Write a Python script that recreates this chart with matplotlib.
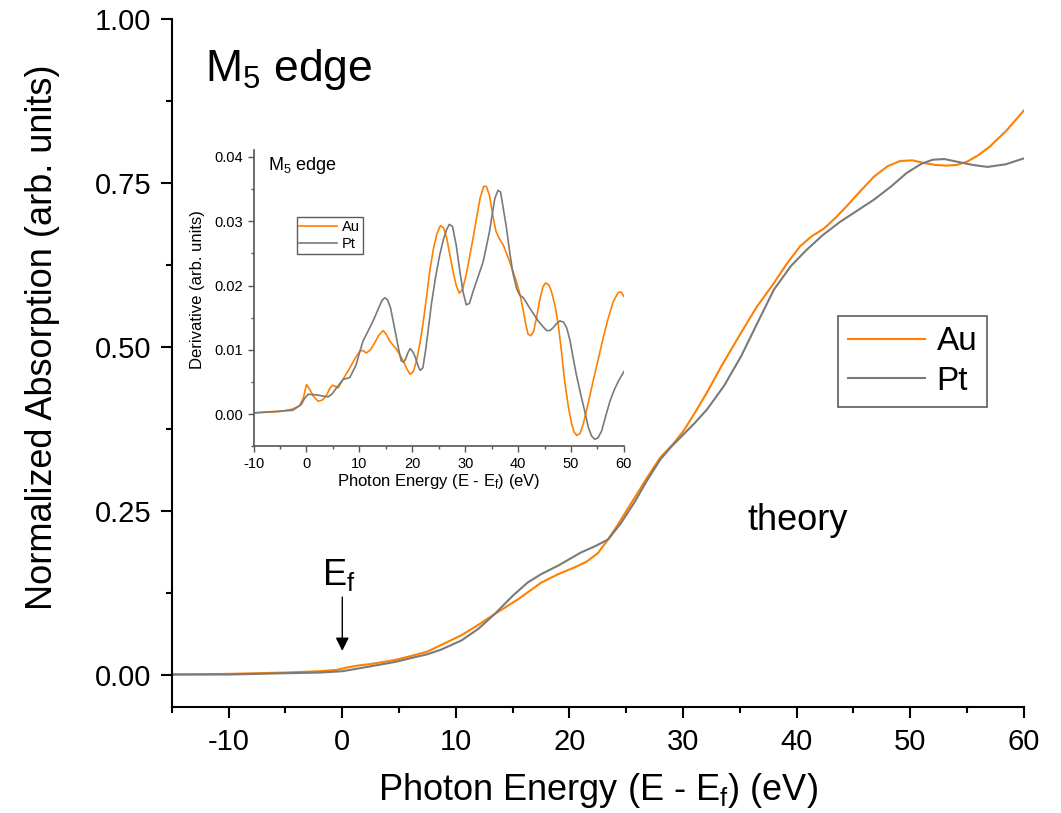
import matplotlib
matplotlib.use("Agg")
import matplotlib.pyplot as plt
from matplotlib.ticker import MultipleLocator, FormatStrFormatter

plt.rcParams['font.family'] = ['Liberation Sans', 'DejaVu Sans']
plt.rcParams['mathtext.fontset'] = 'custom'
plt.rcParams['mathtext.rm'] = 'Liberation Sans'
plt.rcParams['mathtext.it'] = 'Liberation Sans'
plt.rcParams['axes.unicode_minus'] = False

# main panel: normalized absorption
au_e = [-15, -10, -5, -2, -0.5, 0.5, 1.5, 2.5, 4.6, 6, 7.5, 8.7, 10.5, 12, 13.4, 15.5,
        17.5, 19, 20.4, 21.5, 22.5, 23.4, 24.2, 25.1, 26.0, 26.9, 28.0, 29.2, 30.1,
        31.0, 32.1, 33.5, 35.1, 36.5, 38.0, 39.2, 40.3, 41.3, 42.4, 43.4, 44.4, 45.6,
        46.8, 48.0, 49.1, 50.2, 51.2, 52.2, 53.2, 54.1, 55.0, 56.0, 57.0, 58.5, 60]
au_abs = [0.000, 0.001, 0.003, 0.005, 0.007, 0.011, 0.014, 0.016, 0.022, 0.028, 0.035,
          0.045, 0.060, 0.076, 0.092, 0.115, 0.140, 0.153, 0.163, 0.172, 0.185, 0.206,
          0.227, 0.252, 0.277, 0.302, 0.331, 0.353, 0.373, 0.398, 0.430, 0.474, 0.521,
          0.561, 0.597, 0.628, 0.653, 0.668, 0.680, 0.696, 0.714, 0.737, 0.759, 0.775,
          0.783, 0.784, 0.780, 0.777, 0.776, 0.777, 0.782, 0.792, 0.805, 0.830, 0.860]
pt_e = [-15, -10, -5, -2, 0, 2, 4.6, 7.5, 8.7, 10.5, 12, 13.4, 15, 16.3, 17.5, 19.0,
        21.0, 22.3, 23.4, 24.5, 25.7, 26.8, 28.0, 29.0, 29.8, 31.0, 32.1, 33.6, 35.1,
        36.6, 38.0, 39.5, 40.9, 42.3, 43.8, 45.3, 46.8, 48.3, 49.7, 51.0, 52.0, 53.0,
        54.1, 55.5, 56.8, 58.4, 60]
pt_abs = [0.000, 0.000, 0.002, 0.003, 0.005, 0.011, 0.019, 0.031, 0.038, 0.052, 0.070,
          0.092, 0.120, 0.140, 0.153, 0.166, 0.186, 0.196, 0.206, 0.230, 0.262, 0.295,
          0.328, 0.348, 0.362, 0.383, 0.404, 0.440, 0.485, 0.538, 0.587, 0.623, 0.648,
          0.670, 0.690, 0.707, 0.724, 0.744, 0.765, 0.779, 0.785, 0.786, 0.782, 0.777,
          0.774, 0.778, 0.787]

# inset: derivative
au_de = [-10, -5.1, -2.6, -1.3, -0.6, 0.0, 0.5, 1.3, 2.2, 3.0, 3.7, 4.4, 4.9, 5.5, 6.0,
         6.9, 8.2, 9.2, 10.1, 10.7, 11.3, 12.1, 12.9, 13.7, 14.5, 15.1, 15.7, 17.0,
         18.3, 19.0, 19.6, 20.2, 20.8, 21.4, 22.0, 22.7, 23.3, 24.0, 24.6, 25.3, 25.9,
         26.5, 27.1, 27.7, 28.3, 28.9, 29.5, 30.2, 30.8, 31.5, 32.2, 32.8, 33.5, 34.0,
         34.6, 35.2, 35.8, 36.5, 37.2, 38.4, 39.7, 40.4, 41.0, 41.5, 41.9, 42.4, 42.9,
         43.5, 44.1, 44.7, 45.2, 45.8, 46.3, 47.0, 47.6, 48.2, 48.8, 49.5, 50.1, 50.6,
         51.1, 51.7, 52.3, 53.2, 54.2, 55.2, 56.1, 57.0, 58.0, 58.9, 59.5, 60]
au_der = [0.0002, 0.0004, 0.0008, 0.0013, 0.0025, 0.0046, 0.0040, 0.0028, 0.0020,
          0.0022, 0.0028, 0.0040, 0.0045, 0.0043, 0.0041, 0.0054, 0.0072, 0.0087,
          0.0098, 0.0099, 0.0095, 0.0100, 0.0111, 0.0123, 0.0130, 0.0124, 0.0114,
          0.0101, 0.0083, 0.0070, 0.0062, 0.0066, 0.0083, 0.0108, 0.0139, 0.0182,
          0.0222, 0.0257, 0.0279, 0.0293, 0.0290, 0.0274, 0.0248, 0.0222, 0.0200,
          0.0188, 0.0194, 0.0217, 0.0243, 0.0274, 0.0307, 0.0335, 0.0354, 0.0354,
          0.0340, 0.0310, 0.0285, 0.0272, 0.0263, 0.0237, 0.0206, 0.0185, 0.0160,
          0.0138, 0.0124, 0.0122, 0.0128, 0.0150, 0.0178, 0.0198, 0.0204, 0.0201,
          0.0191, 0.0168, 0.0139, 0.0098, 0.0052, 0.0012, -0.0014, -0.0028, -0.0033,
          -0.0030, -0.0016, 0.0015, 0.0052, 0.0087, 0.0119, 0.0148, 0.0175, 0.0189,
          0.0190, 0.0183]
pt_de = [-10, -2.6, -1.0, -0.4, 0.3, 1.9, 3.2, 4.1, 4.8, 5.6, 6.9, 8.2, 9.4, 10.0, 10.7,
         11.7, 12.6, 13.8, 14.3, 14.8, 15.3, 15.9, 16.5, 17.0, 17.5, 17.9, 18.3, 18.7,
         19.2, 19.6, 20.1, 20.6, 21.1, 21.5, 22.0, 22.5, 23.0, 23.6, 24.4, 25.2, 25.9,
         26.5, 27.0, 27.6, 28.3, 29.0, 29.6, 30.2, 30.8, 31.5, 32.5, 33.4, 34.0, 34.6,
         35.1, 35.6, 36.2, 36.7, 37.2, 37.8, 38.4, 39.0, 39.7, 40.3, 41.0, 42.2, 43.8,
         44.6, 45.4, 46.0, 46.6, 47.3, 47.9, 48.6, 49.2, 49.8, 50.4, 51.0, 51.7, 52.5,
         53.3, 53.9, 54.5, 55.1, 55.8, 56.6, 57.4, 58.2, 59.0, 60]
pt_der = [0.0002, 0.0006, 0.0015, 0.0024, 0.0031, 0.0030, 0.0028, 0.0027, 0.0031,
          0.0040, 0.0054, 0.0057, 0.0077, 0.0095, 0.0114, 0.0130, 0.0145, 0.0168,
          0.0177, 0.0181, 0.0178, 0.0165, 0.0140, 0.0119, 0.0098, 0.0083, 0.0081,
          0.0085, 0.0096, 0.0102, 0.0097, 0.0088, 0.0075, 0.0068, 0.0072, 0.0098,
          0.0130, 0.0170, 0.0213, 0.0248, 0.0272, 0.0287, 0.0295, 0.0292, 0.0263,
          0.0222, 0.0190, 0.0170, 0.0172, 0.0191, 0.0215, 0.0237, 0.0260, 0.0284,
          0.0310, 0.0335, 0.0348, 0.0345, 0.0320, 0.0290, 0.0253, 0.0220, 0.0196,
          0.0185, 0.0181, 0.0165, 0.0145, 0.0137, 0.0130, 0.0130, 0.0134, 0.0141,
          0.0145, 0.0143, 0.0134, 0.0115, 0.0088, 0.0062, 0.0036, 0.0008, -0.0021,
          -0.0034, -0.0039, -0.0037, -0.0026, -0.0002, 0.0021, 0.0038, 0.0052, 0.0066]

orange = '#FF8000'
grey = '#7A7A7A'

fig = plt.figure(figsize=(10.61, 8.13), dpi=100)
ax = fig.add_axes([0.162, 0.130, 0.803, 0.847])
ax.plot(au_e, au_abs, color=orange, lw=1.5, label='Au')
ax.plot(pt_e, pt_abs, color=grey, lw=1.5, label='Pt')
ax.set_xlim(-15, 60)
ax.set_ylim(-0.05, 1.0)
ax.set_xticks([-10, 0, 10, 20, 30, 40, 50, 60])
ax.xaxis.set_minor_locator(MultipleLocator(5))
ax.yaxis.set_major_locator(MultipleLocator(0.25))
ax.yaxis.set_minor_locator(MultipleLocator(0.125))
ax.yaxis.set_major_formatter(FormatStrFormatter('%.2f'))
for s in ['top', 'right']:
    ax.spines[s].set_visible(False)
for s in ['left', 'bottom']:
    ax.spines[s].set_linewidth(1.5)
ax.tick_params(which='major', direction='out', length=8, width=1.5, labelsize=21, pad=7)
ax.tick_params(which='minor', direction='out', length=4, width=1.5)
ax.set_xlabel('Photon Energy (E - E$_\\mathregular{f}$) (eV)', fontsize=26, labelpad=11)
ax.set_ylabel('Normalized Absorption (arb. units)', fontsize=26)
ax.yaxis.set_label_coords(-0.131, 0.538)
ax.text(0.039, 0.926, 'M$_\\mathregular{5}$ edge', transform=ax.transAxes,
        fontsize=32, va='center', ha='left')
ax.text(40.1, 0.235, 'theory', fontsize=26, ha='center', va='center')
ax.text(-0.3, 0.152, 'E$_\\mathregular{f}$', fontsize=26, ha='center', va='center')
ax.annotate('', xy=(0, 0.036), xytext=(0, 0.118),
            arrowprops=dict(arrowstyle='-|>', color='black', lw=1,
                            mutation_scale=20, shrinkA=0, shrinkB=0))
leg = ax.legend(loc='upper left', bbox_to_anchor=(0.782, 0.568), fontsize=24,
                frameon=True, fancybox=False, edgecolor='#333333',
                handlelength=2.3, borderaxespad=0, borderpad=0.3,
                labelspacing=0.25, handletextpad=0.35)
leg.get_frame().set_linewidth(1.2)

# inset
ins = fig.add_axes([0.239, 0.451, 0.349, 0.364])
ins.plot(au_de, au_der, color=orange, lw=1.2, label='Au')
ins.plot(pt_de, pt_der, color=grey, lw=1.2, label='Pt')
ins.set_xlim(-10, 60)
ins.set_ylim(-0.005, 0.041)
ins.xaxis.set_major_locator(MultipleLocator(10))
ins.xaxis.set_minor_locator(MultipleLocator(5))
ins.yaxis.set_major_locator(MultipleLocator(0.01))
ins.yaxis.set_minor_locator(MultipleLocator(0.005))
ins.yaxis.set_major_formatter(FormatStrFormatter('%.2f'))
for s in ['top', 'right']:
    ins.spines[s].set_visible(False)
for s in ['left', 'bottom']:
    ins.spines[s].set_color('#555555')
    ins.spines[s].set_linewidth(1.2)
ins.tick_params(which='major', direction='out', length=4, width=1, color='#555555',
                labelsize=10.5)
ins.tick_params(which='minor', direction='out', length=2, width=1, color='#555555')
ins.set_xlabel('Photon Energy (E - E$_\\mathregular{f}$) (eV)', fontsize=12, labelpad=1)
ins.set_ylabel('Derivative (arb. units)', fontsize=12, labelpad=3)
ins.yaxis.set_label_coords(-0.13, 0.53)
ins.text(0.04, 0.95, 'M$_\\mathregular{5}$ edge', transform=ins.transAxes,
         fontsize=13, va='center', ha='left')
ileg = ins.legend(loc='upper left', bbox_to_anchor=(0.116, 0.774), fontsize=10.5,
                  frameon=True, fancybox=False, edgecolor='#333333',
                  handlelength=2.6, borderaxespad=0, borderpad=0.2,
                  labelspacing=0.2, handletextpad=0.3)
ileg.get_frame().set_linewidth(1)

fig.savefig('out.png', dpi=100)
